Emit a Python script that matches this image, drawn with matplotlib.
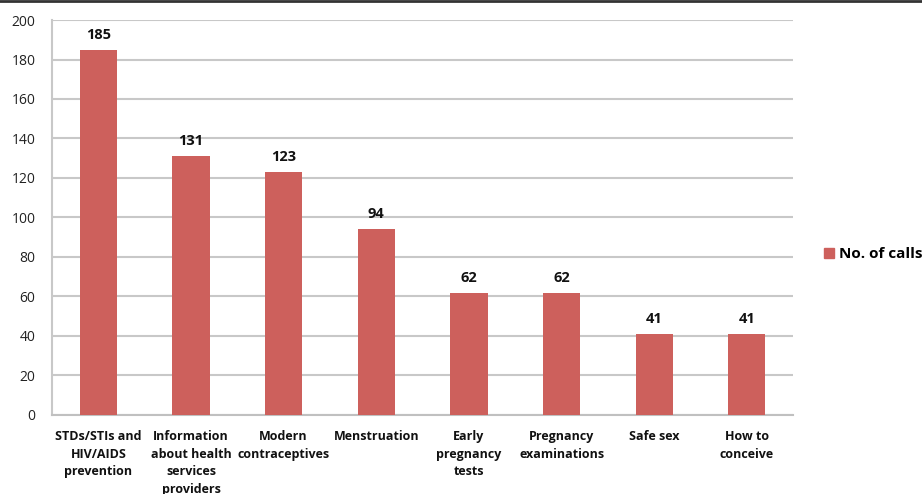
import matplotlib
matplotlib.use("Agg")
import matplotlib.pyplot as plt
from matplotlib.lines import Line2D

categories = ["STDs/STIs and\nHIV/AIDS\nprevention",
              "Information\nabout health\nservices\nproviders",
              "Modern\ncontraceptives",
              "Menstruation",
              "Early\npregnancy\ntests",
              "Pregnancy\nexaminations",
              "Safe sex",
              "How to\nconceive"]
calls = [185, 131, 123, 94, 62, 62, 41, 41]
yticks = [0, 20, 40, 60, 80, 100, 120, 140, 160, 180, 200]
series_name = "No. of calls"

plt.rcParams['font.family'] = ['Open Sans', 'DejaVu Sans']

fig = plt.figure(figsize=(9.22, 4.94), dpi=100)
ax = fig.add_axes([0.0564, 0.160, 0.804, 0.7995])
bar_color = '#CD605C'
x = list(range(len(categories)))
ax.bar(x, calls, width=0.4, color=bar_color, zorder=3)
ax.set_xlim(-0.5, len(categories) - 0.5)
ax.set_ylim(0, 200)
ax.set_yticks(yticks)
ax.set_yticklabels([str(t) for t in yticks], fontsize=10, color='#222222')
ax.set_xticks(x)
ax.set_xticklabels(categories, fontsize=9, fontweight='bold', color='#111111', linespacing=1.45)
ax.tick_params(axis='x', length=0, pad=11)
ax.tick_params(axis='y', length=0, pad=12)
ax.grid(axis='y', color='#C8C8C8', linewidth=1.5, zorder=0)
for s in ['top', 'right']:
    ax.spines[s].set_visible(False)
ax.spines['left'].set_color('#C8C8C8')
ax.spines['left'].set_linewidth(1.5)
ax.spines['bottom'].set_color('#C0C0C0')
ax.spines['bottom'].set_linewidth(1.5)

for xi, v in zip(x, calls):
    ax.text(xi, v + 4, str(v), ha='center', va='bottom', fontsize=10.5, fontweight='bold', color='#111111')

handle = Line2D([], [], marker='s', linestyle='none', markersize=7, markerfacecolor=bar_color, markeredgecolor=bar_color)
fig.legend([handle], [series_name], loc='center left', bbox_to_anchor=(0.884, 0.485), frameon=False,
           prop={'size': 11, 'weight': 'bold'}, handletextpad=0.15, handlelength=1.0, borderaxespad=0)

fig.add_artist(Line2D([0, 1], [0.998, 0.998], transform=fig.transFigure, color='#333333', linewidth=2))

fig.savefig('out.png', dpi=100)
